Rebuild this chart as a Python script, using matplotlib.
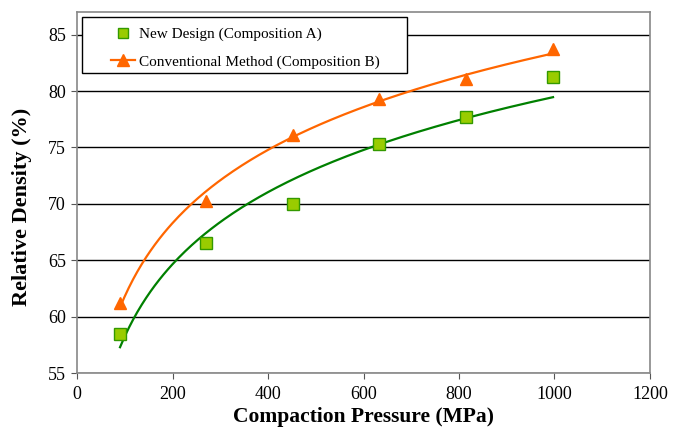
import numpy as np
import matplotlib.pyplot as plt
from matplotlib.patches import Rectangle

plt.rcParams['font.family'] = ['Liberation Serif', 'DejaVu Serif']

pressure = [90, 270, 452, 632, 815, 997]
density_a = [58.5, 66.5, 70.0, 75.3, 77.7, 81.2]
density_b = [61.2, 70.3, 76.1, 79.3, 81.1, 83.7]

label_a = 'New Design (Composition A)'
label_b = 'Conventional Method (Composition B)'

# logarithmic trend lines like the Excel ones
xs = np.linspace(min(pressure), max(pressure), 200)
fit_a = np.polyfit(np.log(pressure), density_a, 1)
fit_b = np.polyfit(np.log(pressure), density_b, 1)

fig = plt.figure(figsize=(6.82, 4.28), dpi=100)
ax = fig.add_axes([0.113, 0.128, 0.840, 0.844])

for y in range(55, 90, 5):
    ax.axhline(y, color='black', lw=1.0, zorder=1)

ax.plot(xs, np.polyval(fit_a, np.log(xs)), color='#008000', lw=1.6, zorder=2)
ax.plot(xs, np.polyval(fit_b, np.log(xs)), color='#FF6600', lw=1.6, zorder=2)

ax.plot(pressure, density_a, ls='none', marker='s', ms=8, mfc='#99CC00',
        mec='#339900', mew=1.0, zorder=3)
ax.plot(pressure, density_b, ls='none', marker='^', ms=9, mfc='#FF6600',
        mec='#FF6600', zorder=3)

# legend box drawn by hand, wider than matplotlib's padding allows
ax.add_patch(Rectangle((0.0087, 0.831), 0.567, 0.155, transform=ax.transAxes,
                       facecolor='white', edgecolor='black', lw=1.0, zorder=4))
h_a, = ax.plot([], [], ls='none', marker='s', ms=7, mfc='#99CC00', mec='#339900')
h_b, = ax.plot([], [], color='#FF6600', lw=1.6, marker='^', ms=8)
leg = ax.legend([h_a, h_b], [label_a, label_b], loc='center left',
                bbox_to_anchor=(0.059, 0.90), fontsize=11, frameon=False,
                borderpad=0, borderaxespad=0, handlelength=1.57,
                handletextpad=0.25, labelspacing=0.9)
leg.set_zorder(5)

ax.set_xlim(0, 1200)
ax.set_ylim(55, 87)
ax.set_xticks(range(0, 1201, 200))
ax.set_yticks(range(55, 86, 5))
ax.tick_params(direction='out', length=4, labelsize=13, colors='black')
ax.tick_params(axis='x', pad=5)
ax.tick_params(axis='y', pad=4)

ax.set_xlabel('Compaction Pressure (MPa)', fontsize=15.5, fontweight='bold', labelpad=3)
ax.set_ylabel('Relative Density (%)', fontsize=16, fontweight='bold')
ax.yaxis.set_label_coords(-0.078, 0.46)

for s in ax.spines.values():
    s.set_color('#888888')
    s.set_linewidth(1.2)
ax.tick_params(color='#555555')

fig.savefig('out.png', dpi=100)
